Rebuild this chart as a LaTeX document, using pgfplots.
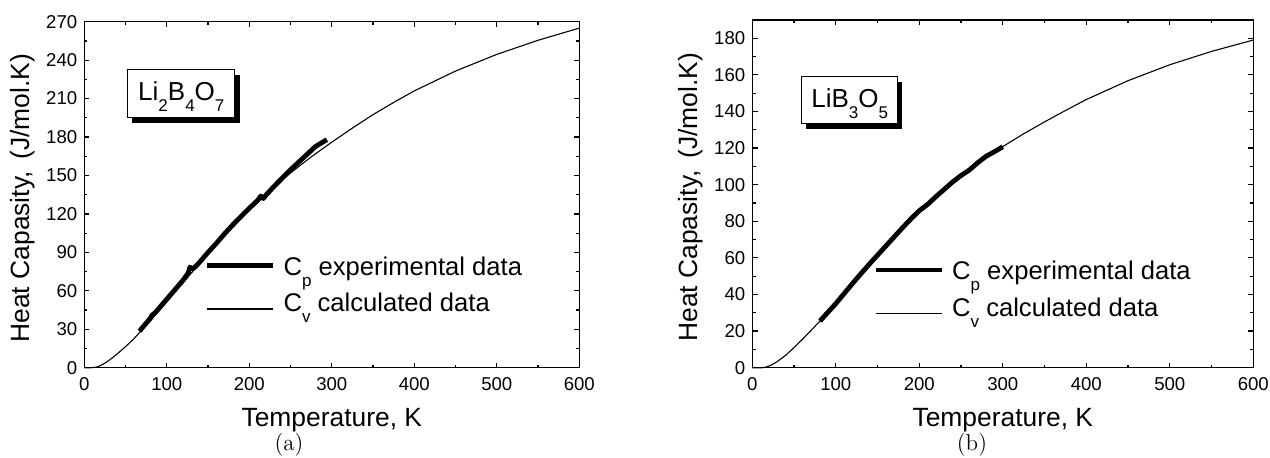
\documentclass[border=0pt]{standalone}
\usepackage{fontspec}
\usepackage{pgfplots}
\pgfplotsset{compat=1.18}
\newfontfamily\arial{Liberation Sans}
\newcommand\sub[1]{\raisebox{-5.5pt}{\fontsize{8.5}{8.5}\selectfont #1}}

\pgfplotsset{
  hcap/.style={
    scale only axis,
    clip=false,
    axis line style={line width=0.7pt},
    xmin=0, xmax=600,
    xtick={0,100,...,600},
    minor x tick num=1,
    minor y tick num=1,
    tick align=inside,
    major tick length=2.6pt,
    minor tick length=1.6pt,
    tick style={line width=0.6pt, black},
    ticklabel style={font=\arial\fontsize{9.3}{10}\selectfont},
    xticklabel style={yshift=-1.3pt},
    /pgf/number format/assume math mode=true,
    label style={font=\arial\fontsize{13.2}{14}\selectfont},
    xlabel={Temperature, K},
    ylabel={Heat Capasity,\,\ (J/mol.K)},
    x label style={at={(axis description cs:0.5,0)}, anchor=base, yshift=-29.5pt},
    y label style={at={(axis description cs:-0.124,0.49)}, anchor=center},
    legend style={draw=none, fill=none, inner sep=0pt, outer sep=0pt,
      nodes={inner sep=0pt}, column sep=4pt, row sep=7.5pt,
      font=\arial\fontsize{12.8}{14}\selectfont, anchor=north west},
    legend cell align=left,
  },
  cp/.style={black, line width=2.4pt, line join=round,
    legend image code/.code={\draw[##1] (0pt,0.9pt) -- (33pt,0.9pt);}},
  cv/.style={black, line width=0.55pt,
    legend image code/.code={\draw[##1] (0pt,-2.4pt) -- (33pt,-2.4pt);}},
}

\begin{document}
\begin{tikzpicture}
\path[use as bounding box] (-42.15pt,-44.65pt) rectangle (592.85pt,183.85pt);

% (a) Li2B4O7
\begin{axis}[hcap,
  at={(0pt,0pt)}, anchor=south west,
  width=247.5pt, height=173pt,
  ymin=0, ymax=270, ytick={0,30,...,270},
  legend style={at={(axis cs:146,86.5)}},
]
  \fill[black] (axis cs:57.5,191.3) rectangle (axis cs:188.5,228.7);
  \draw[line width=0.5pt, fill=white] (axis cs:52.6,195.6) rectangle (axis cs:182.6,233);
  \node[font=\arial\fontsize{13}{14}\selectfont, anchor=base, inner sep=0pt]
    at (axis cs:117.6,208.9) {Li\sub{2}B\sub{4}O\sub{7}};

  \addplot[cp] coordinates {
    (67,28.5) (70,31) (76,35.5) (80,38.5) (82,41) (86,43) (90,46) (100,53.5)
    (110,61) (120,68.5) (126,74) (128,78.5) (131,77) (135,79) (140,82.5)
    (150,90) (160,97) (170,104.5) (180,111.5) (190,118) (200,124.5)
    (210,130.5) (214,134) (217,132) (220,134.5) (230,141.5) (240,148)
    (250,154.5) (260,160.5) (270,166.5) (280,172.5) (285,174.5) (294,178)
  };
  \addlegendentry{C\sub{p} experimental data}
  \addplot[cv] coordinates {
    (0,0) (8,0) (12,0.2) (16,0.7) (20,1.8) (25,3.6) (30,5.8) (35,8.2)
    (40,10.8) (50,16.5) (60,22.5) (67,27.5) (70,29.5) (80,36.5) (90,44)
    (100,51.5) (110,59) (120,66.5) (130,74) (140,81.5) (150,89) (160,96)
    (170,103) (180,110) (190,116.5) (200,123) (225,138) (250,152)
    (275,164.5) (300,176) (325,187) (350,197.5) (375,207) (400,216)
    (450,231.5) (500,244.5) (550,255.5) (600,265)
  };
  \addlegendentry{C\sub{v} calculated data}

  \node[font=\fontsize{11.5}{12}\selectfont, anchor=base]
    at (axis description cs:0.4135,0) [yshift=-41.6pt] {(a)};
\end{axis}

% (b) LiB3O5
\begin{axis}[hcap,
  at={(334pt,0pt)}, anchor=south west,
  width=250.5pt, height=173.9pt,
  ymin=0, ymax=190, ytick={0,20,...,180},
  legend style={at={(axis cs:145,58.3)}},
]
  \fill[black] (axis cs:64.3,130.3) rectangle (axis cs:179.6,156.1);
  \draw[line width=0.5pt, fill=white] (axis cs:59.2,133.2) rectangle (axis cs:174.1,159);
  \node[font=\arial\fontsize{13}{14}\selectfont, anchor=base, inner sep=0pt]
    at (axis cs:116.6,142.3) {LiB\sub{3}O\sub{5}};

  \addplot[cp] coordinates {
    (81,25.5) (90,30) (100,35) (110,40.5) (120,46) (130,51.3) (140,56.5)
    (150,61.5) (160,66.5) (170,71.5) (180,76.5) (190,81.3) (200,85.8)
    (205,87.5) (210,89.2) (220,93.5) (230,97.5) (240,101.5) (250,105)
    (260,108) (265,110) (270,112) (280,115.5) (290,118) (300,120.7)
  };
  \addlegendentry{C\sub{p} experimental data}
  \addplot[cv] coordinates {
    (0,0) (12,0) (16,0.3) (20,0.9) (25,2) (30,3.4) (40,6.8) (50,11)
    (60,15.5) (70,20.2) (80,25) (90,29.8) (100,34.6) (110,40) (120,45.3)
    (130,50.6) (140,55.8) (150,61) (160,66.2) (170,71.3) (180,76.3)
    (190,81.2) (200,86) (225,95.5) (250,104.5) (275,113) (300,120.8)
    (325,127.8) (350,134.3) (375,140.5) (400,146.5) (450,156.8)
    (500,165.5) (550,172.8) (600,179)
  };
  \addlegendentry{C\sub{v} calculated data}

  \node[font=\fontsize{11.5}{12}\selectfont, anchor=base]
    at (axis description cs:0.4385,0) [yshift=-41.6pt] {(b)};
\end{axis}
\end{tikzpicture}
\end{document}
